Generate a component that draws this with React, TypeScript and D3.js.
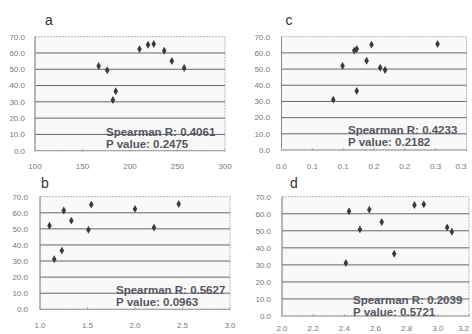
import { useRef, useEffect } from 'react';
import * as d3 from 'd3';

// shared y values (ten samples), and each panel's x values in the same order
const yValues = [31.1, 36.5, 49.4, 50.8, 52.0, 55.1, 61.4, 62.4, 65.1, 65.5];
const aValues = [182, 185, 176, 257, 167, 244, 236, 210, 219, 225];
const bValues = [1.15, 1.23, 1.51, 2.2, 1.1, 1.33, 1.25, 2.0, 1.54, 2.46];
const cValues = [0.084, 0.122, 0.168, 0.16, 0.099, 0.138, 0.118, 0.122, 0.146, 0.253];
const dValues = [2.41, 2.72, 3.09, 2.5, 3.06, 2.64, 2.43, 2.56, 2.85, 2.91];

const yTicks = [0, 10, 20, 30, 40, 50, 60, 70];
const yTickLabels = ['0.0', '10.0', '20.0', '30.0', '40.0', '50.0', '60.0', '70.0'];
const aTicks = [100, 150, 200, 250, 300];
const aTickLabels = ['100', '150', '200', '250', '300'];
const bTicks = [1.0, 1.5, 2.0, 2.5, 3.0];
const bTickLabels = ['1.0', '1.5', '2.0', '2.5', '3.0'];
const cTicks = [0, 0.05, 0.1, 0.15, 0.2, 0.25, 0.3];
const cTickLabels = ['0.0', '0.1', '0.1', '0.2', '0.2', '0.3', '0.3'];
const dTicks = [2.0, 2.2, 2.4, 2.6, 2.8, 3.0, 3.2];
const dTickLabels = ['2.0', '2.2', '2.4', '2.6', '2.8', '3.0', '3.2'];

const spearmanR = ['0.4061', '0.5627', '0.4233', '0.2039'];
const pValues = ['0.2475', '0.0963', '0.2182', '0.5721'];

const panels = [
    { key: 'a', xs: aValues, ticks: aTicks, labels: aTickLabels, left: 35, right: 225, top: 36.7, bottom: 150.7, yLabX: 25, xLabY: 169, titleX: 49, titleY: 25, textX: 106, textY: 135.5, stat: 0 },
    { key: 'c', xs: cValues, ticks: cTicks, labels: cTickLabels, left: 281.5, right: 466.5, top: 36.7, bottom: 150, yLabX: 270, xLabY: 168.5, titleX: 289, titleY: 25, textX: 348, textY: 133.5, stat: 2 },
    { key: 'b', xs: bValues, ticks: bTicks, labels: bTickLabels, left: 40, right: 230, top: 196.7, bottom: 309.3, yLabX: 28, xLabY: 327.5, titleX: 45, titleY: 188, textX: 116, textY: 293.5, stat: 1 },
    { key: 'd', xs: dValues, ticks: dTicks, labels: dTickLabels, left: 282, right: 469, top: 196.7, bottom: 316, yLabX: 271, xLabY: 330.5, titleX: 294, titleY: 188, textX: 353, textY: 303.5, stat: 3 },
];

export default function App() {
    const svgRef = useRef<SVGSVGElement>(null);

    useEffect(() => {
        if (!svgRef.current) return;
        const svg = d3.select(svgRef.current);
        svg.selectAll('*').remove();

        svg.append('rect').attr('width', 472).attr('height', 334).attr('fill', '#fff');

        panels.forEach(p => {
            const x = d3.scaleLinear()
                .domain([p.ticks[0], p.ticks[p.ticks.length - 1]])
                .range([p.left, p.right]);
            const y = d3.scaleLinear().domain([0, 70]).range([p.bottom, p.top]);
            const g = svg.append('g');

            // plot area
            g.append('rect')
                .attr('x', p.left)
                .attr('y', p.top)
                .attr('width', p.right - p.left)
                .attr('height', p.bottom - p.top)
                .attr('fill', '#f9f9f9')
                .attr('stroke', '#b5b5b5')
                .attr('stroke-dasharray', '2,1');

            // gridlines
            g.selectAll('.grid')
                .data(yTicks.slice(1, -1))
                .enter()
                .append('line')
                .attr('x1', p.left)
                .attr('x2', p.right)
                .attr('y1', d => y(d))
                .attr('y2', d => y(d))
                .attr('stroke', '#666')
                .attr('stroke-width', 1);

            // axes lines
            g.append('line')
                .attr('x1', p.left).attr('x2', p.left)
                .attr('y1', p.top).attr('y2', p.bottom)
                .attr('stroke', '#888');
            g.append('line')
                .attr('x1', p.left).attr('x2', p.right)
                .attr('y1', p.bottom).attr('y2', p.bottom)
                .attr('stroke', '#999');

            // x tick marks
            g.selectAll('.xtick')
                .data(p.ticks)
                .enter()
                .append('line')
                .attr('x1', d => x(d)).attr('x2', d => x(d))
                .attr('y1', p.bottom - 2).attr('y2', p.bottom + 1)
                .attr('stroke', '#aaa');

            // y tick labels
            g.selectAll('.ylab')
                .data(yTicks)
                .enter()
                .append('text')
                .attr('x', p.yLabX)
                .attr('y', d => y(d))
                .attr('dy', '0.35em')
                .attr('text-anchor', 'end')
                .attr('fill', '#777')
                .style('font-family', 'Liberation Sans, Arial, sans-serif')
                .style('font-size', '8px')
                .text((d, i) => yTickLabels[i]);

            // x tick labels (keep the last one inside the page edge)
            g.selectAll('.xlab')
                .data(p.ticks)
                .enter()
                .append('text')
                .attr('x', d => Math.min(x(d), 471))
                .attr('y', p.xLabY)
                .attr('text-anchor', d => (x(d) + 6 > 472 ? 'end' : 'middle'))
                .attr('fill', '#777')
                .style('font-family', 'Liberation Sans, Arial, sans-serif')
                .style('font-size', '8px')
                .text((d, i) => p.labels[i]);

            // points
            g.selectAll('.pt')
                .data(p.xs.map((v, i) => [v, yValues[i]]))
                .enter()
                .append('path')
                .attr('d', d3.symbol().type(d3.symbolDiamond).size(18)())
                .attr('transform', d => `translate(${x(d[0])},${y(d[1])})`)
                .attr('fill', '#3a3a3a');

            // panel letter
            g.append('text')
                .attr('x', p.titleX)
                .attr('y', p.titleY)
                .attr('text-anchor', 'middle')
                .attr('fill', '#333')
                .style('font-family', 'Liberation Sans, Arial, sans-serif')
                .style('font-size', '14px')
                .text(p.key);

            // stats
            const stat = g.append('text')
                .attr('x', p.textX)
                .attr('y', p.textY)
                .attr('fill', '#55555f')
                .style('font-family', 'Liberation Sans, Arial, sans-serif')
                .style('font-size', '11.5px')
                .style('font-weight', 'bold');
            stat.append('tspan').attr('x', p.textX).text(`Spearman R: ${spearmanR[p.stat]}`);
            stat.append('tspan').attr('x', p.textX).attr('dy', 12.5).text(`P value: ${pValues[p.stat]}`);
        });
    }, []);

    return (
        <svg ref={svgRef} width={472} height={334}
            style={{ position: 'absolute', left: 0, top: 0, display: 'block' }} />
    );
}
